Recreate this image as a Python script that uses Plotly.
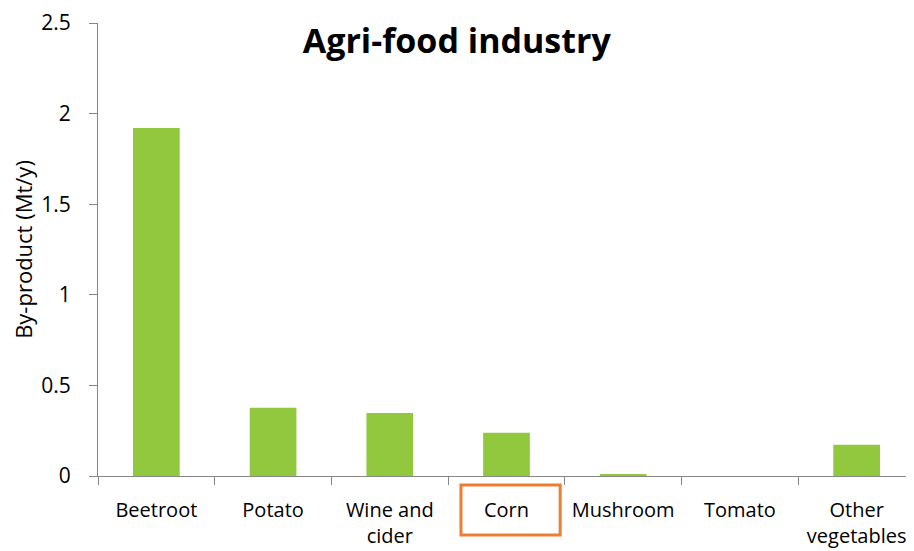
import plotly.graph_objects as go

categories = ["Beetroot", "Potato", "Wine and<br>cider", "Corn", "Mushroom", "Tomato", "Other<br>vegetables"]
values = [1.92, 0.376, 0.348, 0.238, 0.009, 0.0, 0.172]
y_ticks = [0, 0.5, 1, 1.5, 2, 2.5]
y_tick_labels = ["0", "0.5", "1", "1.5", "2", "2.5"]

FONT = "Open Sans"
AXIS_COLOR = "#868686"

fig = go.Figure(go.Bar(x=categories, y=values, marker=dict(color="#92C83E", line=dict(width=0))))

fig.update_layout(
    width=914, height=551,
    margin=dict(l=90, r=7, t=15, b=83, autoexpand=False),
    paper_bgcolor="white", plot_bgcolor="white",
    bargap=0.6,
    showlegend=False,
    font=dict(family=FONT, size=21, color="black"),
    title=dict(text="<b>Agri-food industry</b>", x=0.491, xanchor="center", y=0.94, yanchor="middle",
               font=dict(family=FONT, size=34, color="black")),
)
fig.update_xaxes(
    type="category", automargin=False, tickangle=0,
    showline=True, linecolor=AXIS_COLOR, linewidth=1,
    ticks="outside", tickson="boundaries", ticklen=8, tickcolor=AXIS_COLOR,
    ticklabelstandoff=16,
    showgrid=False, zeroline=False,
    tickfont=dict(family=FONT, size=20, color="black"),
)
fig.update_yaxes(
    range=[0, 2.5], tickvals=y_ticks, ticktext=y_tick_labels, automargin=False,
    showline=True, linecolor=AXIS_COLOR, linewidth=1,
    ticks="outside", ticklen=8, tickcolor=AXIS_COLOR,
    ticklabelstandoff=14,
    showgrid=False, zeroline=False,
    tickfont=dict(family=FONT, size=21, color="black"),
    title=dict(text="By-product (Mt/y)", font=dict(family=FONT, size=22, color="black"), standoff=12),
)
fig.add_shape(type="rect", xref="x", yref="paper",
              x0=2.61, x1=3.46, y0=-0.02, y1=-0.13,
              line=dict(color="#ED7D31", width=3))

fig.write_html("out.html")
